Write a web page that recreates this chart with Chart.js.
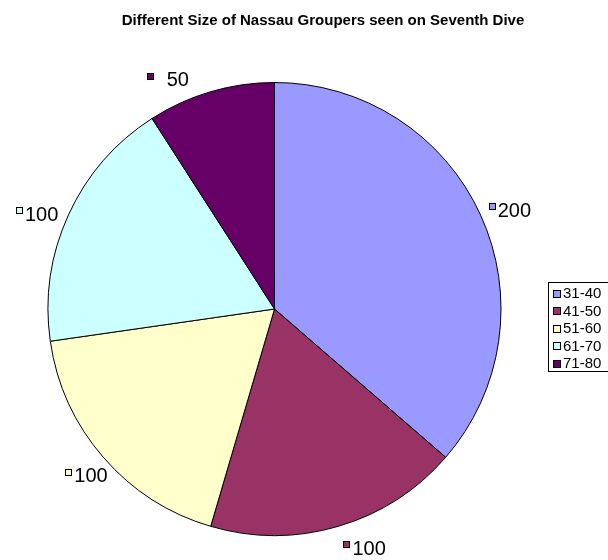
<!DOCTYPE html>
<html>
<head>
<meta charset="utf-8">
<script src="https://cdn.jsdelivr.net/npm/chart.js@4/dist/chart.umd.min.js"></script>
<style>
  html, body { margin: 0; padding: 0; background: #fff; }
  #wrap { width: 608px; height: 560px; position: relative; }
</style>
</head>
<body>
<div id="wrap"><canvas id="c" width="608" height="560"></canvas></div>
<script>
const chartTitle = "Different Size of Nassau Groupers seen on Seventh Dive";
const categories = ["31-40", "41-50", "51-60", "61-70", "71-80"];
const counts = [200, 100, 100, 100, 50];
const sliceColors = ["#9999FF", "#993366", "#FFFFCC", "#CCFFFF", "#660066"];

const FONT = "'Liberation Sans', Arial, sans-serif";

const titlePlugin = {
  id: 'xlTitle',
  afterDraw(chart) {
    const ctx = chart.ctx;
    ctx.save();
    ctx.font = "bold 15px " + FONT;
    ctx.fillStyle = "#000";
    ctx.textAlign = "center";
    ctx.textBaseline = "middle";
    ctx.fillText(chartTitle, 323, 21);
    ctx.restore();
  }
};

const labelPlugin = {
  id: 'xlLabels',
  afterDatasetsDraw(chart, args, opts) {
    const ctx = chart.ctx;
    const meta = chart.getDatasetMeta(0);
    const ds = chart.data.datasets[0];
    ctx.save();
    ctx.font = "20px " + FONT;
    ctx.textBaseline = "middle";
    ctx.textAlign = "right";
    const fieldW = ctx.measureText("100").width;
    meta.data.forEach((arc, i) => {
      const p = arc.getProps(['x', 'y', 'startAngle', 'endAngle', 'outerRadius'], true);
      const mid = (p.startAngle + p.endAngle) / 2;
      const R = p.outerRadius + opts.offset;
      const n = opts.nudges[i] || [0, 0];
      const cx = p.x + Math.cos(mid) * R + n[0];
      const cy = p.y + Math.sin(mid) * R + n[1];
      const fieldRight = cx + fieldW / 2;
      const fieldLeft = cx - fieldW / 2;
      ctx.fillStyle = "#000";
      ctx.fillText(String(ds.data[i]), fieldRight, cy);
      const k = 6;
      const kx = Math.round(fieldLeft - 3 - k) + 0.5;
      const ky = Math.round(cy - 8) + 0.5;
      ctx.fillStyle = ds.backgroundColor[i];
      ctx.fillRect(kx, ky, k, k);
      ctx.strokeStyle = "#000";
      ctx.lineWidth = 1;
      ctx.strokeRect(kx, ky, k, k);
    });
    ctx.restore();
  }
};

const legendPlugin = {
  id: 'xlLegend',
  afterDraw(chart, args, opts) {
    const ctx = chart.ctx;
    const ds = chart.data.datasets[0];
    ctx.save();
    ctx.strokeStyle = "#000";
    ctx.lineWidth = 1;
    ctx.strokeRect(opts.left + 0.5, opts.top + 0.5, 200, opts.height);
    ctx.font = "15px " + FONT;
    ctx.textBaseline = "middle";
    ctx.textAlign = "left";
    chart.data.labels.forEach((lab, i) => {
      const y = opts.top + opts.first + i * opts.step;
      const kx = opts.left + 5.5;
      const ky = Math.round(y - 4) + 0.5;
      ctx.fillStyle = ds.backgroundColor[i];
      ctx.fillRect(kx, ky, 7, 7);
      ctx.strokeRect(kx, ky, 7, 7);
      ctx.fillStyle = "#000";
      ctx.fillText(lab, opts.left + 15, y + 0.5);
    });
    ctx.restore();
  }
};

new Chart(document.getElementById('c'), {
  type: 'pie',
  data: {
    labels: categories,
    datasets: [{
      data: counts,
      backgroundColor: sliceColors,
      borderColor: "#000",
      borderWidth: 1
    }]
  },
  options: {
    responsive: false,
    animation: false,
    events: [],
    layout: { padding: { left: 47, top: 82, right: 106, bottom: 24 } },
    plugins: {
      legend: { display: false },
      title: { display: false },
      tooltip: { enabled: false },
      xlLabels: {
        offset: 30,
        nudges: [[6.6, 8.8], [22.4, -6], [10.3, -0.3], [0.4, 12.6], [-30, 18]]
      },
      xlLegend: { left: 548, top: 282, height: 89, first: 11.5, step: 17.5 }
    }
  },
  plugins: [titlePlugin, labelPlugin, legendPlugin]
});
</script>
</body>
</html>
